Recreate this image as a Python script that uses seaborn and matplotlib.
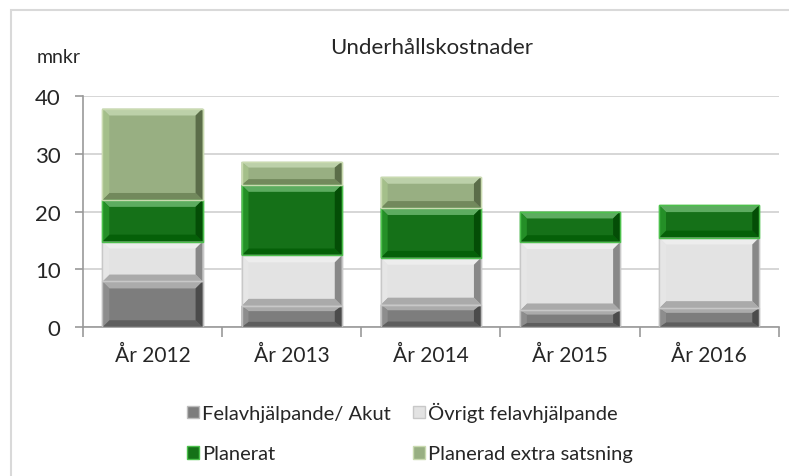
import matplotlib
matplotlib.use("Agg")
import matplotlib.pyplot as plt
from matplotlib.patches import Polygon, Rectangle
from matplotlib.colors import to_rgb
import numpy as np
import pandas as pd
import seaborn as sns

years = ["År 2012", "År 2013", "År 2014", "År 2015", "År 2016"]
akut = [7.9, 3.7, 3.9, 2.9, 3.3]
ovrigt = [6.9, 8.7, 8.1, 11.8, 12.2]
planerat = [7.2, 12.2, 8.6, 5.3, 5.6]
extra = [15.8, 4.0, 5.4, 0.0, 0.0]

names = ["Felavhjälpande/ Akut", "Övrigt felavhjälpande", "Planerat", "Planerad extra satsning"]
colors = ["#7d7d7d", "#e3e3e3", "#06800a", "#98b67a"]
edges = ["#bdbdbd", "#c8c8c8", "#4cc04c", "#c9dab0"]


def mix(c, other, t):
    a = np.array(to_rgb(c))
    b = np.array(to_rgb(other))
    return tuple(a * (1 - t) + b * t)


def bevel(ax, patch, color):
    # fake the excel bevel: light top, dark bottom/right
    x, y = patch.get_x(), patch.get_y()
    w, h = patch.get_width(), patch.get_height()
    if h <= 0:
        return
    bx = min(0.05, w / 4)
    by = min(1.2, h / 4)
    x1, y1 = x + w, y + h
    ix0, ix1, iy0, iy1 = x + bx, x1 - bx, y + by, y1 - by
    faces = [
        ([(x, y1), (x1, y1), (ix1, iy1), (ix0, iy1)], mix(color, "white", 0.35)),
        ([(x, y), (ix0, iy0), (ix1, iy0), (x1, y)], mix(color, "black", 0.25)),
        ([(x, y), (x, y1), (ix0, iy1), (ix0, iy0)], mix(color, "white", 0.12)),
        ([(x1, y), (x1, y1), (ix1, iy1), (ix1, iy0)], mix(color, "black", 0.4)),
    ]
    for pts, fc in faces:
        ax.add_patch(Polygon(pts, closed=True, facecolor=fc, edgecolor="none", zorder=3))
    ax.add_patch(Rectangle((x, y), w, h, fill=False, edgecolor=patch.get_edgecolor(),
                           linewidth=1.0, zorder=4))


sns.set_theme(style="white")
plt.rcParams["font.family"] = ["Lato", "DejaVu Sans"]

fig = plt.figure(figsize=(7.89, 4.77), dpi=100)
ax = fig.add_axes([0.105, 0.312, 0.882, 0.485])

df = pd.DataFrame({"year": years, "akut": akut, "ovrigt": ovrigt,
                   "planerat": planerat, "extra": extra})
series = ["akut", "ovrigt", "planerat", "extra"]
bottom = np.zeros(len(years))
for key, name, col, ec in zip(series, names, colors, edges):
    n0 = len(ax.patches)
    sns.barplot(data=df, x="year", y=key, bottom=bottom, color=col, width=0.72,
                edgecolor=ec, linewidth=1.0, label=name, ax=ax, zorder=2)
    for p in list(ax.patches[n0:]):
        bevel(ax, p, col)
    bottom = bottom + df[key].values

handles, labels = ax.get_legend_handles_labels()
if ax.get_legend() is not None:
    ax.get_legend().remove()

ax.set_xlim(-0.5, 4.5)
ax.set_ylim(0, 40)
ax.set_yticks([0, 10, 20, 30, 40])
ax.yaxis.grid(True, color="#d0d0d0", linewidth=1.2)
ax.set_axisbelow(True)
ax.set_xlabel("")
ax.set_ylabel("")
for s in ["top", "right"]:
    ax.spines[s].set_visible(False)
for s in ["left", "bottom"]:
    ax.spines[s].set_color("#999999")
    ax.spines[s].set_linewidth(1.2)
ax.tick_params(axis="y", which="major", length=6, width=1.2, color="#999999",
               labelsize=16, pad=10, left=True, direction="out")
ax.set_xticks(np.arange(-0.5, 5.0, 1.0), minor=True)
ax.tick_params(axis="x", which="minor", length=7, width=1.2, color="#999999", bottom=True)
ax.tick_params(axis="x", which="major", length=0, labelsize=15, pad=13)

fig.text(0.547, 0.899, "Underhållskostnader", ha="center", va="center", fontsize=16)
fig.text(0.046, 0.88, "mnkr", ha="left", va="center", fontsize=14)

# legend fills column-first, so reorder to get rows like the original
order = [0, 2, 1, 3]
fig.legend([handles[i] for i in order], [labels[i] for i in order],
           loc="center", bbox_to_anchor=(0.52, 0.092), ncol=2, frameon=False,
           fontsize=14.5, handlelength=0.6, handleheight=0.6, handletextpad=0.15,
           columnspacing=1.1, labelspacing=1.15)

fig.add_artist(Rectangle((11 / 789, -0.5), 2.0, (477 - 11) / 477 + 0.5,
                         transform=fig.transFigure, fill=False,
                         edgecolor="#d9d9d9", linewidth=1.5))

fig.savefig("out.png", dpi=100)
